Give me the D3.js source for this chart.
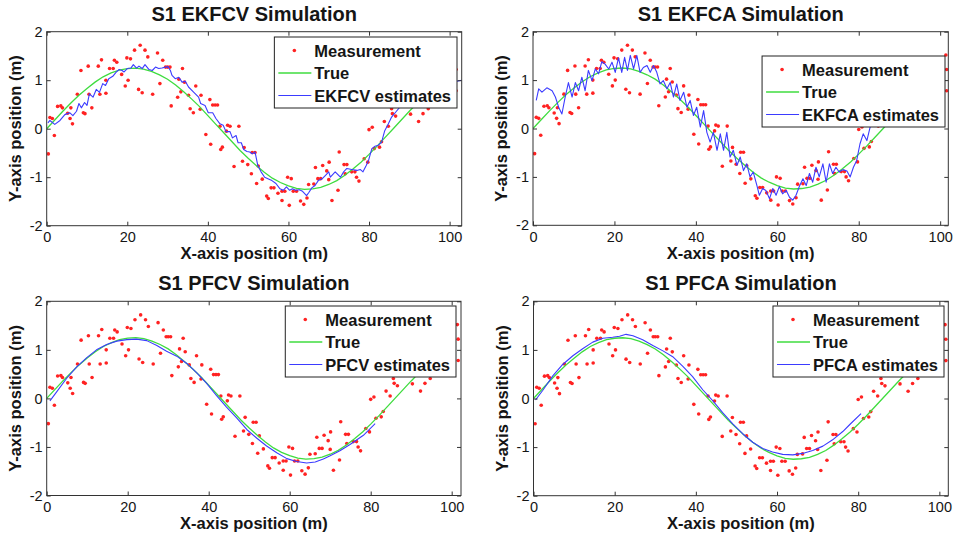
<!DOCTYPE html>
<html lang="en">
<head>
<meta charset="UTF-8">
<title>S1 Simulation</title>
<script src="https://cdn.jsdelivr.net/npm/d3@7"></script>
<style>
  body { margin: 0; background: #fff; }
  svg { display: block; font-family: "Liberation Sans", Arial, Helvetica, sans-serif; }
</style>
</head>
<body>
<svg id="viz" width="961" height="538"></svg>
<script>
// Data ---
const xTicks = [0, 20, 40, 60, 80, 100];
const yTicks = [-2, -1, 0, 1, 2];
const titles = ['S1 EKFCV Simulation', 'S1 EKFCA Simulation', 'S1 PFCV Simulation', 'S1 PFCA Simulation'];
const estimateNames = ['EKFCV estimates', 'EKFCA estimates', 'PFCV estimates', 'PFCA estimates'];
const legendNames = ['Measurement', 'True'];

// noisy measurements [x, y]
const measurements = [
  [0.4,-0.52],[0.8,0.23],[1.4,0.21],[1.9,-0.14],[2.7,0.46],[3.5,0.47],[3.9,0.43],[5.2,0.32],[5.8,0.21],[6.0,0.43],
  [6.4,0.10],[7.6,0.71],[8.5,1.20],[9.1,0.33],[9.5,0.31],[10.3,1.29],[10.5,0.71],[11.2,0.43],[12.8,1.29],[13.2,0.71],
  [13.6,1.42],[14.7,0.73],[14.7,1.00],[15.6,1.24],[16.5,1.24],[16.8,1.41],[17.4,1.37],[18.6,1.12],[19.5,0.88],[19.9,1.46],
  [20.2,1.00],[20.8,1.44],[21.8,1.62],[22.8,0.81],[23.2,1.72],[23.7,0.74],[24.4,1.62],[25.1,1.48],[26.3,0.71],[27.5,1.56],
  [28.1,0.93],[28.8,1.41],[29.5,1.27],[30.0,1.27],[30.6,1.27],[30.9,0.47],[32.5,0.65],[32.8,1.02],[33.3,0.76],[33.7,1.24],
  [34.2,0.96],[35.2,0.69],[35.6,0.41],[36.4,0.33],[37.0,0.88],[38.1,0.40],[38.3,0.69],[39.5,-0.12],[40.5,0.60],[40.7,-0.32],
  [41.2,0.49],[41.8,0.49],[42.4,0.49],[43.0,0.05],[43.2,-0.43],[43.6,-0.38],[44.6,-0.05],[44.9,0.07],[45.5,0.05],[46.5,-0.78],
  [47.7,0.05],[48.6,-0.67],[49.0,-0.39],[49.9,-0.74],[50.8,-0.93],[51.0,-0.49],[51.7,-0.49],[52.1,-1.13],[52.5,-0.77],[53.5,-1.04],
  [54.6,-1.39],[55.0,-1.44],[55.7,-1.22],[56.4,-1.22],[57.4,-1.33],[58.4,-1.48],[58.4,-1.29],[59.1,-1.29],[59.8,-1.00],[60.2,-1.58],
  [60.7,-1.03],[61.2,-1.29],[62.0,-1.29],[63.0,-1.49],[63.8,-1.56],[64.6,-1.43],[65.0,-1.15],[66.3,-1.14],[66.7,-0.80],[67.3,-1.03],
  [68.0,-1.03],[68.5,-0.76],[69.5,-0.87],[70.0,-1.05],[70.1,-0.69],[70.8,-1.48],[72.3,-1.27],[72.6,-0.48],[73.8,-0.74],[74.1,-0.93],
  [74.5,-0.74],[75.7,-0.89],[76.5,-0.89],[76.9,-1.00],[77.5,-1.08],[78.8,-0.62],[79.7,-0.69],[80.0,-0.02],[80.8,0.03],[81.3,-0.41],
  [82.6,-0.38],[83.1,-0.27],[83.8,0.15],[84.8,0.05],[85.6,0.41],[85.8,0.31],[86.6,0.26],[90.3,0.30],[92.3,0.15],[93.4,0.31],
  [94.7,0.41],[101.4,1.52],[101.6,1.22],[101.6,0.78]
];

// true trajectory
const trueX = [0,2,4,6,8,10,12,14,16,18,20,22,24,26,28,30,32,34,36,38,40,42,44,46,48,50,
  52,54,56,58,60,62,64,66,68,70,72,74,76,78,80,82,84,86,88,90,92,94,96,98,100];
const trueY = [0,0.18,0.36,0.53,0.69,0.83,0.96,1.07,1.15,1.21,1.24,1.25,1.23,1.18,1.11,1.02,0.90,0.76,0.61,0.45,0.27,0.09,
  -0.09,-0.27,-0.45,-0.61,-0.76,-0.90,-1.02,-1.11,-1.18,-1.23,-1.25,-1.24,-1.21,-1.15,-1.07,-0.96,-0.83,-0.69,-0.53,-0.36,
  -0.18,0,0.18,0.36,0.53,0.69,0.83,0.96,1.07];

// filter estimates [x, y]
const ekfcv = [
  [0.3,0.12],[0.8,0.17],[2.0,0.09],[3.3,0.17],[4.5,0.29],[5.7,0.33],[6.5,0.27],[7.4,0.36],[8.0,0.52],[8.6,0.43],
  [9.4,0.54],[10.0,0.48],[10.6,0.72],[11.5,0.65],[12.3,0.81],[13.1,0.75],[13.9,0.93],[14.6,0.89],[15.4,1.03],[16.4,1.08],
  [17.3,1.17],[18.0,1.22],[18.7,1.20],[19.2,1.17],[20.0,1.24],[20.9,1.25],[21.5,1.32],[22.3,1.25],[22.9,1.29],[23.7,1.24],
  [24.4,1.32],[25.4,1.22],[26.2,1.20],[27.0,1.27],[27.8,1.24],[28.6,1.25],[29.5,1.27],[30.1,1.28],[30.7,1.20],[31.1,1.10],
  [31.9,1.03],[32.8,1.06],[33.6,0.96],[34.4,0.98],[35.2,0.86],[36.4,0.76],[37.7,0.65],[38.2,0.52],[39.3,0.48],[40.1,0.33],
  [41.2,0.33],[42.0,0.21],[43.0,0.10],[43.8,0.07],[44.5,-0.06],[45.5,-0.06],[46.1,-0.19],[47.0,-0.14],[47.5,-0.29],[48.3,-0.29],
  [48.9,-0.43],[49.7,-0.47],[50.4,-0.48],[51.0,-0.52],[51.7,-0.48],[52.4,-0.76],[53.2,-0.89],[54.1,-1.00],[54.9,-1.03],[55.9,-1.07],
  [56.9,-1.13],[57.9,-1.24],[58.7,-1.27],[59.5,-1.20],[60.3,-1.27],[61.0,-1.24],[61.8,-1.27],[62.7,-1.26],[63.5,-1.29],[64.5,-1.38],
  [65.1,-1.31],[65.8,-1.22],[66.6,-1.17],[67.4,-1.07],[68.4,-1.03],[69.2,-0.96],[70.0,-0.89],[70.4,-1.00],[71.6,-0.89],[72.9,-1.00],
  [73.7,-0.89],[74.5,-0.82],[75.7,-0.84],[77.0,-0.86],[77.8,-0.84],[78.5,-0.89],[79.3,-0.76],[79.9,-0.65],[80.7,-0.41],[81.5,-0.36],
  [82.3,-0.34],[83.1,-0.28],[83.9,-0.04],[84.8,0.10],[85.6,0.24],[86.8,0.36],[88.0,0.48],[92.0,0.66],[96.0,0.84],[100.0,0.95],[103.0,1.00]
];
const ekfca = [
  [0.8,0.58],[1.4,0.82],[2.2,0.75],[3.4,0.84],[4.7,0.78],[5.5,0.65],[6.3,0.44],[7.1,0.30],[7.9,0.65],[8.7,0.95],
  [9.6,0.65],[10.4,0.95],[11.2,0.78],[12.0,1.06],[12.8,0.78],[13.6,1.20],[14.5,0.99],[15.3,1.23],[16.1,1.13],[16.9,1.38],
  [17.7,1.33],[18.6,1.23],[19.4,1.37],[20.2,1.16],[21.0,1.46],[21.8,1.16],[22.5,1.47],[23.2,1.20],[23.9,1.51],[24.7,1.23],
  [25.5,1.51],[26.3,1.16],[27.1,1.26],[28.0,1.30],[28.8,1.16],[29.6,1.30],[30.4,1.16],[31.2,0.92],[32.0,0.99],[32.9,0.82],
  [33.7,0.95],[34.5,0.65],[35.3,0.92],[36.1,0.58],[37.0,0.75],[37.8,0.44],[38.6,0.58],[39.4,0.27],[40.2,0.44],[41.1,0.03],
  [41.9,0.37],[42.7,-0.08],[43.5,-0.28],[44.3,-0.08],[45.2,-0.45],[46.0,-0.11],[46.8,-0.45],[47.6,-0.08],[48.4,-0.59],[49.2,-0.45],
  [50.1,-0.76],[50.9,-0.59],[51.7,-0.87],[52.5,-0.73],[53.3,-1.00],[54.1,-0.90],[55.0,-1.18],[55.6,-1.38],[56.4,-1.24],[57.2,-1.28],
  [58.1,-1.45],[58.9,-1.24],[59.7,-1.38],[60.5,-1.20],[61.3,-1.35],[62.2,-1.28],[63.0,-1.42],[63.8,-1.48],[64.6,-1.38],[65.4,-1.20],
  [66.3,-1.04],[67.1,-1.18],[67.9,-0.93],[68.7,-1.11],[69.5,-0.80],[70.3,-1.00],[71.2,-0.73],[72.0,-1.11],[72.8,-0.73],[73.6,-0.93],
  [74.4,-0.80],[75.2,-0.90],[76.1,-0.85],[77.1,-0.88],[77.9,-1.00],[78.7,-0.80],[79.5,-0.66],[80.3,-0.32],[81.1,-0.11],[82.0,-0.25],
  [82.8,0.03],[83.6,0.10],[84.5,0.25]
];
const pfcv = [
  [0.8,-0.05],[2.5,0.14],[4.9,0.41],[7.4,0.65],[9.9,0.84],[12.3,1.00],[14.8,1.11],[17.3,1.18],[19.8,1.21],[22.2,1.22],
  [24.7,1.19],[27.2,1.09],[29.6,0.97],[32.1,0.87],[34.6,0.72],[37.0,0.53],[39.5,0.31],[42.0,0.05],[44.4,-0.18],[46.9,-0.40],
  [49.4,-0.64],[51.9,-0.82],[54.3,-0.98],[56.8,-1.12],[59.3,-1.24],[61.7,-1.30],[64.2,-1.33],[66.3,-1.31],[68.3,-1.25],[70.0,-1.18],
  [72.4,-1.08],[74.9,-0.95],[78.2,-0.76],[81.1,-0.52]
];
const pfca = [
  [0.5,-0.03],[2.3,0.17],[4.8,0.47],[7.2,0.70],[9.7,0.88],[12.2,1.03],[14.6,1.16],[17.1,1.24],[19.5,1.26],[21.2,1.28],
  [22.8,1.32],[24.5,1.29],[26.9,1.21],[29.4,1.09],[31.9,0.98],[34.3,0.86],[36.8,0.66],[39.2,0.45],[41.7,0.18],[44.2,-0.05],
  [46.6,-0.29],[49.1,-0.52],[51.6,-0.73],[54.0,-0.90],[56.5,-1.03],[58.9,-1.10],[61.4,-1.15],[63.9,-1.16],[66.3,-1.13],[68.8,-1.07],
  [71.3,-0.98],[73.7,-0.85],[76.2,-0.68],[78.0,-0.53],[80.7,-0.31]
];

// Layout (pixel positions of each axes box and legend) ---
const panels = [
  { title: titles[0], name: estimateNames[0], est: ekfcv, box: [46.7, 31.7, 461.7, 225.7], xMax: 103,   legend: [457, 37] },
  { title: titles[1], name: estimateNames[1], est: ekfca, box: [533, 31.7, 948.3, 225.3],  xMax: 102,   legend: [945, 56] },
  { title: titles[2], name: estimateNames[2], est: pfcv,  box: [46.7, 301.3, 461, 495.5],  xMax: 102.3, legend: [456, 306] },
  { title: titles[3], name: estimateNames[3], est: pfca,  box: [533.5, 301.3, 948.3, 495.7], xMax: 102.2, legend: [944, 306] }
];

const styles = {
  meas: '#ff2222',
  truth: '#3fdc3f',
  est: '#3b3bff',
  axis: '#333',
  text: '#151515'
};

const svg = d3.select('#viz');
const trueData = trueX.map((x, i) => [x, trueY[i]]);
const plainNum = d => String(d);   // MATLAB style: "-1", not "−1.0"

panels.forEach((p, k) => {
  const [x0, y0, x1, y1] = p.box;
  const x = d3.scaleLinear().domain([0, p.xMax]).range([x0, x1]);
  const y = d3.scaleLinear().domain([-2, 2]).range([y1, y0]);
  const g = svg.append('g');

  g.append('rect')
    .attr('x', x0).attr('y', y0)
    .attr('width', x1 - x0).attr('height', y1 - y0)
    .attr('fill', '#fff');

  g.append('clipPath').attr('id', 'clip' + k)
    .append('rect')
    .attr('x', x0).attr('y', y0)
    .attr('width', x1 - x0).attr('height', y1 - y0);

  const plot = g.append('g').attr('clip-path', `url(#clip${k})`);

  // Measurements
  plot.selectAll('circle')
    .data(measurements)
    .join('circle')
    .attr('cx', d => x(d[0]))
    .attr('cy', d => y(d[1]))
    .attr('r', 1.8)
    .attr('fill', styles.meas);

  const line = d3.line().x(d => x(d[0])).y(d => y(d[1]));

  plot.append('path')
    .attr('d', line(trueData))
    .attr('fill', 'none')
    .attr('stroke', styles.truth)
    .attr('stroke-width', 1.3);

  plot.append('path')
    .attr('d', line(p.est))
    .attr('fill', 'none')
    .attr('stroke', styles.est)
    .attr('stroke-width', 1.1)
    .attr('stroke-linejoin', 'round');

  // Axes, ticks inward on all four sides
  const tickStyle = sel => {
    sel.select('.domain').remove();
    sel.selectAll('line').attr('stroke', styles.axis);
    sel.selectAll('text')
      .attr('fill', styles.text)
      .style('font-size', '14.5px');
  };
  g.append('g').attr('transform', `translate(0,${y1})`)
    .call(d3.axisBottom(x).tickValues(xTicks).tickSize(-4).tickPadding(6).tickFormat(plainNum))
    .call(tickStyle);
  g.append('g').attr('transform', `translate(0,${y0})`)
    .call(d3.axisTop(x).tickValues(xTicks).tickSize(-4).tickFormat(''))
    .call(tickStyle);
  g.append('g').attr('transform', `translate(${x0},0)`)
    .call(d3.axisLeft(y).tickValues(yTicks).tickSize(-4).tickPadding(4).tickFormat(plainNum))
    .call(tickStyle);
  g.append('g').attr('transform', `translate(${x1},0)`)
    .call(d3.axisRight(y).tickValues(yTicks).tickSize(-4).tickFormat(''))
    .call(tickStyle);

  g.append('rect')
    .attr('x', x0).attr('y', y0)
    .attr('width', x1 - x0).attr('height', y1 - y0)
    .attr('fill', 'none')
    .attr('stroke', styles.axis)
    .attr('stroke-width', 1);

  // Titles and labels
  const cx = (x0 + x1) / 2, cy = (y0 + y1) / 2;
  g.append('text')
    .attr('x', cx).attr('y', y0 - 11)
    .attr('text-anchor', 'middle')
    .style('font-size', '20px').style('font-weight', 'bold')
    .attr('fill', styles.text)
    .text(p.title);
  g.append('text')
    .attr('x', cx).attr('y', y1 + 33.5)
    .attr('text-anchor', 'middle')
    .style('font-size', '16.5px').style('font-weight', 'bold')
    .attr('fill', styles.text)
    .text('X-axis position (m)');
  g.append('text')
    .attr('transform', `translate(${x0 - 26},${cy}) rotate(-90)`)
    .attr('text-anchor', 'middle')
    .style('font-size', '16.5px').style('font-weight', 'bold')
    .attr('fill', styles.text)
    .text('Y-axis position (m)');

  // Legend
  const [lr, lt] = p.legend;
  const lg = g.append('g');
  const box = lg.append('rect')
    .attr('y', lt).attr('height', 71)
    .attr('fill', '#fff')
    .attr('stroke', '#222').attr('stroke-width', 1);
  const names = [legendNames[0], legendNames[1], p.name];
  const rows = [13.5, 36, 58.5];
  const labels = lg.selectAll('text.leg')
    .data(names)
    .join('text')
    .attr('class', 'leg')
    .attr('y', (d, i) => lt + rows[i])
    .attr('dominant-baseline', 'central')
    .style('font-size', '16.5px').style('font-weight', 'bold')
    .attr('fill', styles.text)
    .text(d => d);
  const maxLen = d3.max(labels.nodes(), n => n.getComputedTextLength());
  const w = 40 + maxLen + 6;
  const ll = lr - w;
  box.attr('x', ll).attr('width', w);
  labels.attr('x', ll + 40);
  lg.append('circle')
    .attr('cx', ll + 20).attr('cy', lt + rows[0])
    .attr('r', 1.8).attr('fill', styles.meas);
  lg.append('line')
    .attr('x1', ll + 4).attr('x2', ll + 37)
    .attr('y1', lt + rows[1]).attr('y2', lt + rows[1])
    .attr('stroke', styles.truth).attr('stroke-width', 1.3);
  lg.append('line')
    .attr('x1', ll + 4).attr('x2', ll + 37)
    .attr('y1', lt + rows[2]).attr('y2', lt + rows[2])
    .attr('stroke', styles.est).attr('stroke-width', 1.1);
});
</script>
</body>
</html>
